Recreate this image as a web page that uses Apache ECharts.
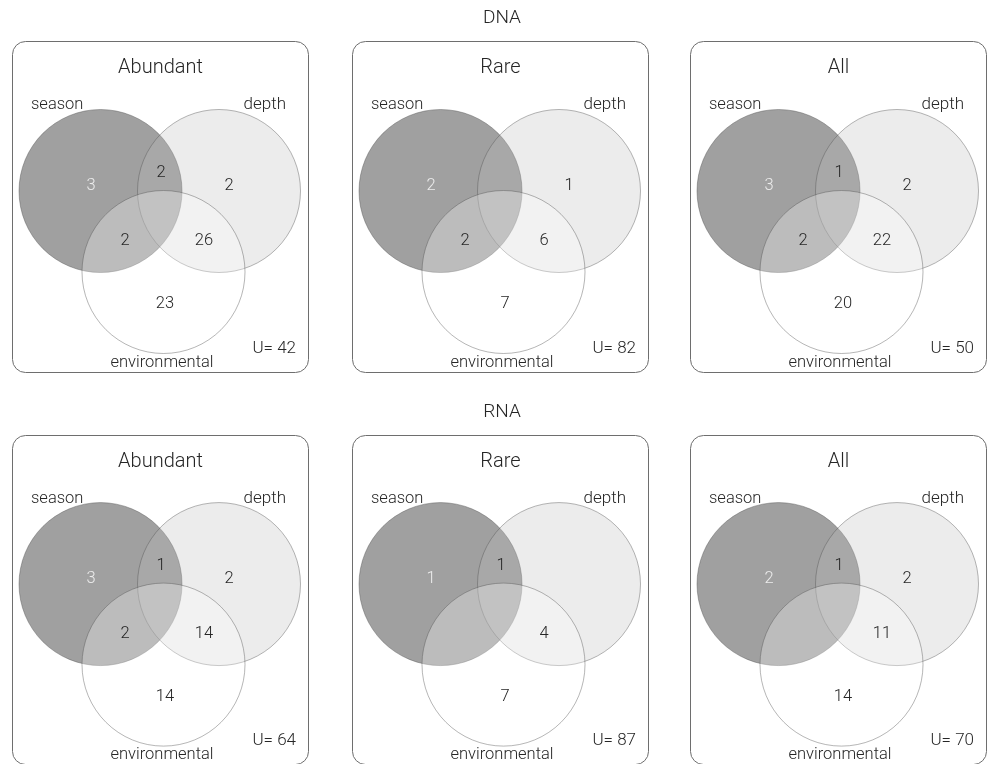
<!DOCTYPE html>
<html><head><meta charset="utf-8">
<script src="https://cdn.jsdelivr.net/npm/echarts@6/dist/echarts.min.js"></script>
<style>html,body{margin:0;padding:0;background:#fff}#c{width:987px;height:764px}</style>
</head><body><div id="c"></div>
<script>
// ---------- data ----------
const rowTitles = ['DNA', 'RNA'];
const panelTitles = ['Abundant', 'Rare', 'All'];
const setNames = ['season', 'depth', 'environmental'];
// region order: season only, season∩depth, depth only, season∩env, depth∩env, env only, all three
const regionKeys = ['s', 'sd', 'd', 'se', 'de', 'e', 'sde'];
const dnaAbundant = [3, 2, 2, 2, 26, 23, 0];
const dnaRare     = [2, 0, 1, 2, 6, 7, 0];
const dnaAll      = [3, 1, 2, 2, 22, 20, 0];
const rnaAbundant = [3, 1, 2, 2, 14, 14, 0];
const rnaRare     = [1, 1, 0, 0, 4, 7, 0];
const rnaAll      = [2, 1, 2, 0, 11, 14, 0];
const universeSizes = [42, 82, 50, 64, 87, 70];

const panelCounts = [dnaAbundant, dnaRare, dnaAll, rnaAbundant, rnaRare, rnaAll];

// ---------- layout (panel-local units) ----------
const BOX_W = 297, BOX_H = 331;
const boxLefts = [12, 352, 690];
const boxTops = [41, 435];
const FONT = 'Roboto, "Liberation Sans", Arial, sans-serif';
const TXT = '#262626';

const circleGeom = [
  { cx: 88.5, cy: 150, r: 81.5, fill: 'rgba(160,160,160,1)' },
  { cx: 207,  cy: 150, r: 81.5, fill: 'rgba(188,188,188,0.29)' },
  { cx: 151.5, cy: 231, r: 81.5, fill: 'rgba(255,255,255,0.3)' }
];
const regionAnchors = {
  s: [79, 145], sd: [149, 132], d: [217, 145], se: [113, 200],
  de: [192, 200], e: [153, 263], sde: [150, 178]
};

const chart = echarts.init(document.getElementById('c'), null, { renderer: 'canvas' });

const grids = [], xAxes = [], yAxes = [], series = [];
for (let p = 0; p < 6; p++) {
  const row = Math.floor(p / 3), col = p % 3;
  grids.push({ left: boxLefts[col], top: boxTops[row], width: BOX_W, height: BOX_H });
  xAxes.push({ gridIndex: p, type: 'value', min: 0, max: BOX_W, show: false });
  yAxes.push({ gridIndex: p, type: 'value', min: 0, max: BOX_H, inverse: true, show: false });

  // panel box
  series.push({
    type: 'custom', xAxisIndex: p, yAxisIndex: p, silent: true, z: 1,
    data: [[0, 0]],
    renderItem: function (params, api) {
      const a = api.coord([0, 0]), b = api.coord([BOX_W, BOX_H]);
      return { type: 'rect', shape: { x: a[0] + 0.5, y: a[1] + 0.5, width: b[0] - a[0] - 1, height: b[1] - a[1], r: 13 },
        style: { fill: '#fff', stroke: '#6e6e6e', lineWidth: 1 } };
    }
  });

  // circles
  series.push({
    type: 'custom', xAxisIndex: p, yAxisIndex: p, silent: true, z: 2,
    data: circleGeom.map(c => [c.cx, c.cy, c.r]),
    renderItem: function (params, api) {
      const c = api.coord([api.value(0), api.value(1)]);
      const r = api.size([api.value(2), 0])[0];
      return { type: 'circle', shape: { cx: c[0], cy: c[1], r: r },
        style: { fill: circleGeom[params.dataIndex].fill, stroke: 'rgba(80,80,80,0.42)', lineWidth: 1 } };
    }
  });

  // region counts
  const counts = panelCounts[p];
  const countData = [];
  regionKeys.forEach((k, i) => { if (counts[i] > 0) countData.push([regionAnchors[k][0], regionAnchors[k][1], counts[i], i]); });
  series.push({
    type: 'custom', xAxisIndex: p, yAxisIndex: p, silent: true, z: 3,
    data: countData,
    renderItem: function (params, api) {
      const c = api.coord([api.value(0), api.value(1)]);
      const region = api.value(3);
      return { type: 'text', x: c[0], y: c[1],
        style: { text: String(api.value(2)), fill: region === 0 ? '#ececec' : TXT,
          font: '300 16.5px ' + FONT, textAlign: 'center', textVerticalAlign: 'middle' } };
    }
  });

  // texts: title, set names, universe
  const texts = [
    { x: 148.5, y: 27, text: panelTitles[col], align: 'center', size: 20 },
    { x: 19, y: 64, text: setNames[0], align: 'left', size: 16.5 },
    { x: 274, y: 64, text: setNames[1], align: 'right', size: 17 },
    { x: 150, y: 322, text: setNames[2], align: 'center', size: 16.5 },
    { x: 284, y: 308, text: 'U= ' + universeSizes[p], align: 'right', size: 17 }
  ];
  series.push({
    type: 'custom', xAxisIndex: p, yAxisIndex: p, silent: true, z: 4,
    data: texts.map(t => [t.x, t.y]),
    renderItem: function (params, api) {
      const t = texts[params.dataIndex];
      const c = api.coord([api.value(0), api.value(1)]);
      return { type: 'text', x: c[0], y: c[1],
        style: { text: t.text, fill: TXT, font: '300 ' + t.size + 'px ' + FONT,
          textAlign: t.align, textVerticalAlign: 'middle' } };
    }
  });
}

chart.setOption({
  backgroundColor: '#fff',
  animation: false,
  grid: grids, xAxis: xAxes, yAxis: yAxes, series: series,
  graphic: rowTitles.map((t, i) => ({
    type: 'text', x: 502, y: i === 0 ? 18 : 412,
    style: { text: t, fill: TXT, font: '300 19px ' + FONT, textAlign: 'center', textVerticalAlign: 'middle' }
  }))
});
</script>
</body></html>
